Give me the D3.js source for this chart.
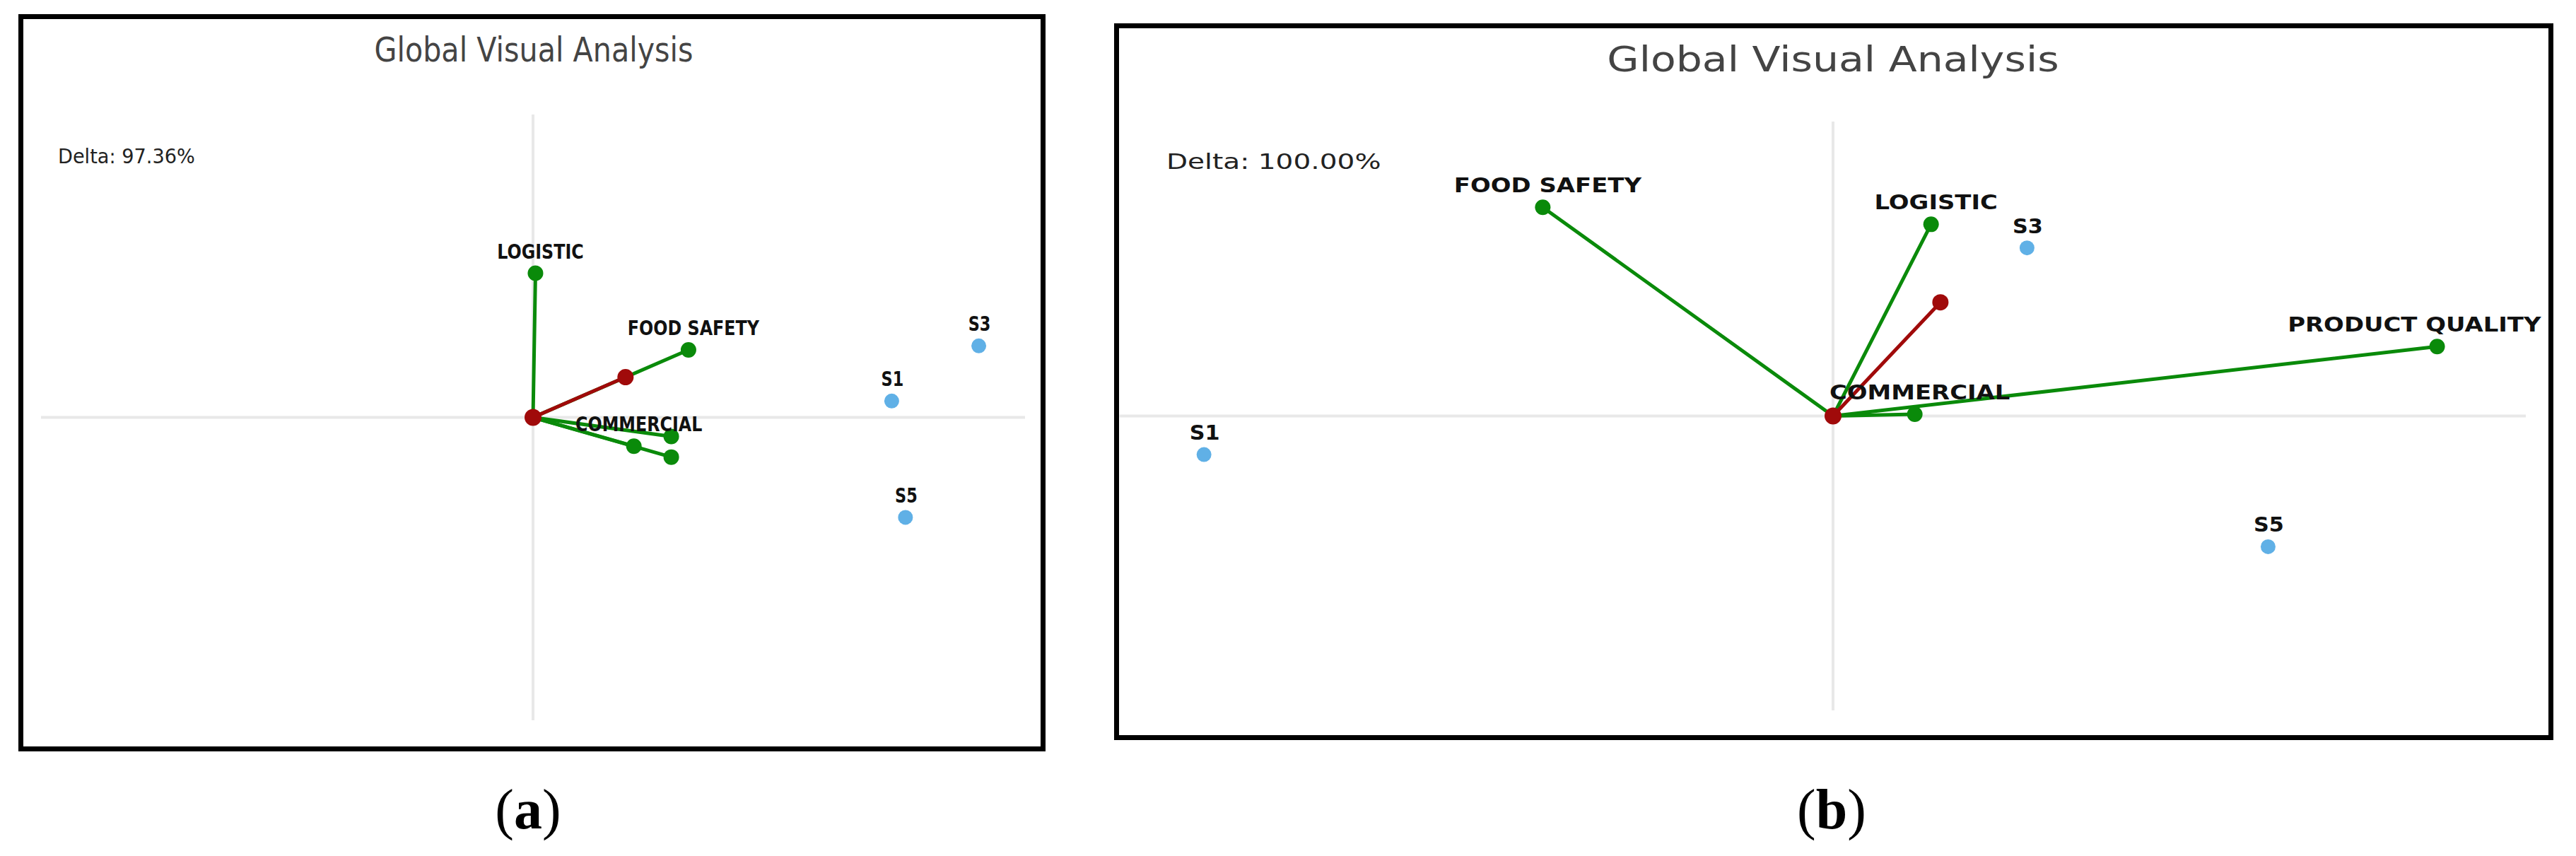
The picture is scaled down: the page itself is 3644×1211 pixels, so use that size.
<!DOCTYPE html>
<html>
<head>
<meta charset="utf-8">
<script src="https://cdn.jsdelivr.net/npm/d3@7/dist/d3.min.js"></script>
<style>
  html, body { margin: 0; padding: 0; background: #fff; }
  svg { display: block; }
</style>
</head>
<body>
<svg id="chart" width="3644" height="1211"></svg>
<script>
'use strict';

// ---- data (GAIA plane, units of each panel's axis half-length) ----
var titleText = "Global Visual Analysis";
var captionLetters = ["a", "b"];
var deltaValues = ["97.36%", "100.00%"];

// panel (a)
var criteriaLabelsA = ["LOGISTIC", "FOOD SAFETY", "", "COMMERCIAL", ""];
var criteriaXA = [0.005, 0.316, 0.281, 0.205, 0.281];
var criteriaYA = [0.476, 0.223, -0.063, -0.095, -0.131];
var decisionA = [0.188, 0.133];
var actionLabelsA = ["S1", "S3", "S5"];
var actionXA = [0.729, 0.906, 0.757];
var actionYA = [0.054, 0.236, -0.330];

// panel (b)
var criteriaLabelsB = ["FOOD SAFETY", "LOGISTIC", "PRODUCT QUALITY", "COMMERCIAL"];
var criteriaXB = [-0.419, 0.1415, 0.872, 0.118];
var criteriaYB = [0.709, 0.651, 0.236, 0.006];
var decisionB = [0.155, 0.386];
var actionLabelsB = ["S1", "S3", "S5"];
var actionXB = [-0.908, 0.280, 0.628];
var actionYB = [-0.131, 0.571, -0.444];

var green = "#0a8a0a", red = "#a00a0a", blue = "#60b0e6", axisGrey = "#e8e8e8";

var svg = d3.select("#chart");
svg.append("rect").attr("width", 3644).attr("height", 1211).attr("fill", "#fff");

function zip(labels, xs, ys) {
  return labels.map(function(l, i) { return {label: l, x: xs[i], y: ys[i]}; });
}

// layout for each panel (positions only)
var panels = [
  {
    box: {x: 29.5, y: 23.5, w: 1446, h: 1036},
    xRange: [58, 1450], yRange: [1019, 162],
    hExtent: [-1, 1], vExtent: [-1, 1],
    title: {x: 755, y: 87, size: 48, sx: 0.86},
    delta: {x: 82, y: 231, size: 28, sx: 0.97},
    label: {size: 28, sx: 0.85, sSx: 0.8},
    caption: {x: 747, y: 1172},
    lineW: 5,
    criteria: zip(criteriaLabelsA, criteriaXA, criteriaYA),
    decision: decisionA,
    actions: zip(actionLabelsA, actionXA, actionYA)
  },
  {
    box: {x: 1579.5, y: 36.5, w: 2029, h: 1007},
    xRange: [1613, 3573], yRange: [1005, 172],
    hExtent: [-1.03, 1], vExtent: [-1, 1],
    title: {x: 2593, y: 101, size: 50, sx: 1.17},
    delta: {x: 1650, y: 239, size: 31, sx: 1.26},
    label: {size: 28, sx: 1.21, sSx: 1.08},
    caption: {x: 2591, y: 1172},
    lineW: 5,
    criteria: zip(criteriaLabelsB, criteriaXB, criteriaYB),
    decision: decisionB,
    actions: zip(actionLabelsB, actionXB, actionYB)
  }
];

function stretchedText(g, txt, x, y, sx, anchor) {
  return g.append("text")
    .attr("transform", "translate(" + x + "," + y + ") scale(" + sx + ",1)")
    .attr("text-anchor", anchor)
    .text(txt);
}

panels.forEach(function(p, pi) {
  var g = svg.append("g").attr("class", "panel panel-" + captionLetters[pi]);
  var x = d3.scaleLinear().domain([-1, 1]).range(p.xRange);
  var y = d3.scaleLinear().domain([-1, 1]).range(p.yRange);
  var ox = x(0), oy = y(0);
  var rightLimit = p.box.x + p.box.w - 14;

  // frame
  g.append("rect")
    .attr("x", p.box.x).attr("y", p.box.y)
    .attr("width", p.box.w).attr("height", p.box.h)
    .attr("fill", "#fff").attr("stroke", "#000").attr("stroke-width", 7);

  // plane axes
  g.append("line")
    .attr("x1", x(p.hExtent[0])).attr("x2", x(p.hExtent[1]))
    .attr("y1", oy).attr("y2", oy)
    .attr("stroke", axisGrey).attr("stroke-width", 4);
  g.append("line")
    .attr("x1", ox).attr("x2", ox)
    .attr("y1", y(p.vExtent[0])).attr("y2", y(p.vExtent[1]))
    .attr("stroke", axisGrey).attr("stroke-width", 4);

  // title + delta
  stretchedText(g, titleText, p.title.x, p.title.y, p.title.sx, "middle")
    .attr("font-family", "DejaVu Sans").attr("font-size", p.title.size).attr("fill", "#444");
  stretchedText(g, "Delta: " + deltaValues[pi], p.delta.x, p.delta.y, p.delta.sx, "start")
    .attr("font-family", "DejaVu Sans").attr("font-size", p.delta.size).attr("fill", "#222");

  // criteria vectors
  g.selectAll("line.crit").data(p.criteria).enter().append("line")
    .attr("class", "crit")
    .attr("x1", ox).attr("y1", oy)
    .attr("x2", function(d) { return x(d.x); })
    .attr("y2", function(d) { return y(d.y); })
    .attr("stroke", green).attr("stroke-width", p.lineW).attr("stroke-linecap", "round");

  // decision axis
  g.append("line")
    .attr("x1", ox).attr("y1", oy)
    .attr("x2", x(p.decision[0])).attr("y2", y(p.decision[1]))
    .attr("stroke", red).attr("stroke-width", p.lineW).attr("stroke-linecap", "round");

  g.selectAll("circle.crit").data(p.criteria).enter().append("circle")
    .attr("class", "crit")
    .attr("cx", function(d) { return x(d.x); })
    .attr("cy", function(d) { return y(d.y); })
    .attr("r", 11).attr("fill", green);

  g.append("circle").attr("cx", x(p.decision[0])).attr("cy", y(p.decision[1]))
    .attr("r", 11.5).attr("fill", red);
  g.append("circle").attr("cx", ox).attr("cy", oy).attr("r", 12).attr("fill", red);

  // actions
  g.selectAll("circle.act").data(p.actions).enter().append("circle")
    .attr("class", "act")
    .attr("cx", function(d) { return x(d.x); })
    .attr("cy", function(d) { return y(d.y); })
    .attr("r", 10.5).attr("fill", blue);

  // labels, 21px above the dot, kept inside the frame
  p.criteria.forEach(function(d) {
    if (!d.label) return;
    var cx = x(d.x) + 7, cy = y(d.y) - 21;
    var t = stretchedText(g, d.label, cx, cy, p.label.sx, "middle")
      .attr("font-family", "DejaVu Sans").attr("font-weight", "bold")
      .attr("font-size", p.label.size).attr("fill", "#111");
    var w = t.node().getComputedTextLength() * p.label.sx;
    if (cx + w / 2 > rightLimit) {
      cx = rightLimit - w / 2;
      t.attr("transform", "translate(" + cx + "," + cy + ") scale(" + p.label.sx + ",1)");
    }
  });
  p.actions.forEach(function(d) {
    stretchedText(g, d.label, x(d.x) + 1, y(d.y) - 21, p.label.sSx, "middle")
      .attr("font-family", "DejaVu Sans").attr("font-weight", "bold")
      .attr("font-size", p.label.size).attr("fill", "#111");
  });

  // caption under the panel
  var cap = svg.append("text")
    .attr("x", p.caption.x).attr("y", p.caption.y)
    .attr("text-anchor", "middle")
    .attr("font-family", "Liberation Serif").attr("font-size", 80).attr("fill", "#000");
  cap.append("tspan").text("(");
  cap.append("tspan").attr("font-weight", "bold").text(captionLetters[pi]);
  cap.append("tspan").text(")");
});
</script>
</body>
</html>
